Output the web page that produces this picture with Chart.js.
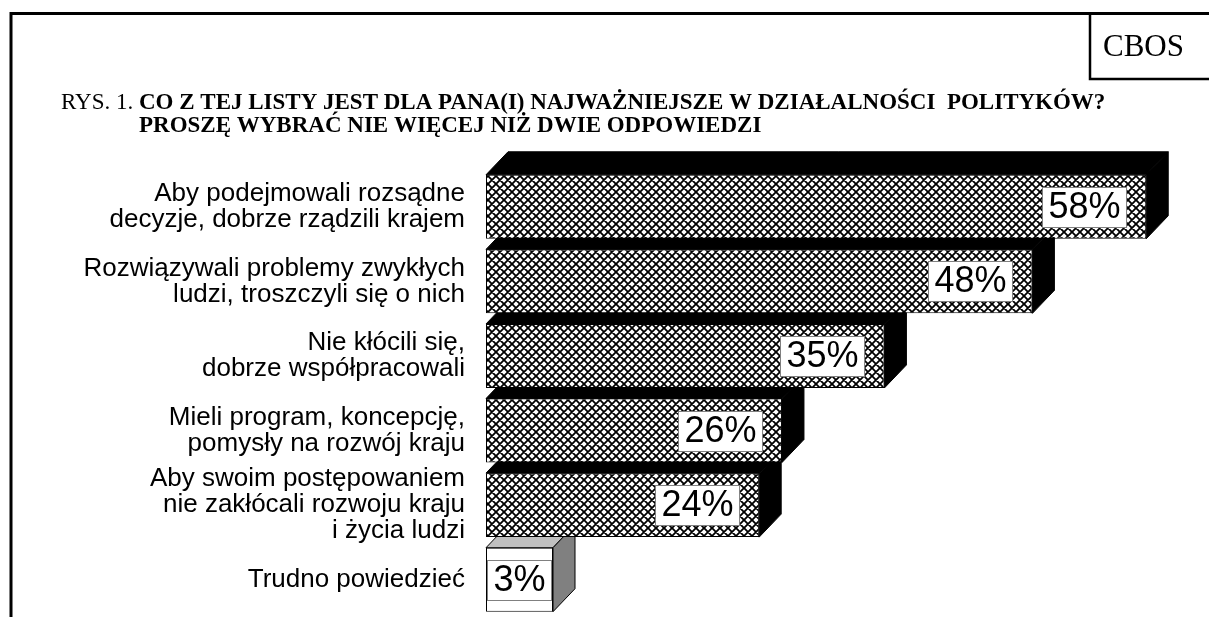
<!DOCTYPE html>
<html>
<head>
<meta charset="utf-8">
<script src="https://cdn.jsdelivr.net/npm/chart.js@4.4.0/dist/chart.umd.min.js"></script>
<style>
  html, body { margin: 0; padding: 0; background: #fff; }
</style>
</head>
<body>
<canvas id="bars" width="1209" height="617"></canvas>
<script>
// data
var categories = [
    ['Aby podejmowali rozsądne', 'decyzje, dobrze rządzili krajem'],
    ['Rozwiązywali problemy zwykłych', 'ludzi, troszczyli się o nich'],
    ['Nie kłócili się,', 'dobrze współpracowali'],
    ['Mieli program, koncepcję,', 'pomysły na rozwój kraju'],
    ['Aby swoim postępowaniem', 'nie zakłócali rozwoju kraju', 'i życia ludzi'],
    ['Trudno powiedzieć']
];
var values = [58, 48, 35, 26, 24, 3];
var valueLabels = ['58%', '48%', '35%', '26%', '24%', '3%'];
var titlePrefix = 'RYS. 1. ';
var titleLines = [
    'CO Z TEJ LISTY JEST DLA PANA(I) NAJWAŻNIEJSZE W DZIAŁALNOŚCI  POLITYKÓW?',
    'PROSZĘ WYBRAĆ NIE WIĘCEJ NIŻ DWIE ODPOWIEDZI'
];
var sourceLabel = 'CBOS';

var sans = '"Liberation Sans", Arial, sans-serif';
var serif = '"Liberation Serif", "Times New Roman", serif';

// crosshatch fill like the old excel pattern
function crossHatch() {
    var c = document.createElement('canvas');
    c.width = 8; c.height = 8;
    var g = c.getContext('2d');
    g.fillStyle = '#fff';
    g.fillRect(0, 0, 8, 8);
    g.strokeStyle = '#000';
    g.lineWidth = 1.8;
    g.beginPath();
    g.moveTo(-2, -2); g.lineTo(10, 10);
    g.moveTo(-2, 6); g.lineTo(2, 10);
    g.moveTo(6, -2); g.lineTo(10, 2);
    g.moveTo(-2, 10); g.lineTo(10, -2);
    g.moveTo(-2, 2); g.lineTo(2, -2);
    g.moveTo(6, 10); g.lineTo(10, 6);
    g.stroke();
    return g.createPattern(c, 'repeat');
}

var ctx = document.getElementById('bars').getContext('2d');
var hatch = crossHatch();
var fronts = values.map(function (v, i) { return i < 5 ? hatch : '#ffffff'; });
var tops = values.map(function (v, i) { return i < 5 ? '#000000' : '#c0c0c0'; });
var sides = values.map(function (v, i) { return i < 5 ? '#000000' : '#808080'; });

var depthX = 22, depthY = 23;

function barBox(bar) {
    var p = bar.getProps(['x', 'y', 'base', 'height'], true);
    return {
        left: Math.min(p.x, p.base),
        right: Math.max(p.x, p.base),
        top: p.y - p.height / 2,
        bottom: p.y + p.height / 2,
        y: p.y
    };
}

var depthPlugin = {
    id: 'depth',
    beforeDatasetsDraw: function (chart) {
        var c = chart.ctx;
        var meta = chart.getDatasetMeta(0);
        c.save();
        c.lineWidth = 1;
        c.strokeStyle = '#000';
        for (var i = meta.data.length - 1; i >= 0; i--) {
            var b = barBox(meta.data[i]);
            c.fillStyle = tops[i];
            c.beginPath();
            c.moveTo(b.left, b.top);
            c.lineTo(b.left + depthX, b.top - depthY);
            c.lineTo(b.right + depthX, b.top - depthY);
            c.lineTo(b.right, b.top);
            c.closePath();
            c.fill(); c.stroke();
            c.fillStyle = sides[i];
            c.beginPath();
            c.moveTo(b.right, b.top);
            c.lineTo(b.right + depthX, b.top - depthY);
            c.lineTo(b.right + depthX, b.bottom - depthY);
            c.lineTo(b.right, b.bottom);
            c.closePath();
            c.fill(); c.stroke();
        }
        c.restore();
    },
    afterDatasetsDraw: function (chart) {
        var c = chart.ctx;
        var meta = chart.getDatasetMeta(0);
        c.save();
        c.font = '36px ' + sans;
        c.textAlign = 'center';
        c.textBaseline = 'middle';
        meta.data.forEach(function (bar, i) {
            var b = barBox(bar);
            var w = c.measureText(valueLabels[i]).width + 12;
            var h = 40;
            var x0 = b.right - 20 - w;
            if (b.right - b.left < w + 30) x0 = (b.left + b.right - w) / 2;
            var y0 = Math.round(b.y - h / 2) + 0.5;
            x0 = Math.round(x0) + 0.5;
            c.fillStyle = '#fff';
            c.fillRect(x0, y0, w, h);
            c.strokeStyle = '#808080';
            c.lineWidth = 1;
            c.strokeRect(x0, y0, w, h);
            c.fillStyle = '#000';
            c.fillText(valueLabels[i], x0 + w / 2, y0 + h / 2 + 1);
        });
        c.restore();
    },
    afterDraw: function (chart) {
        var c = chart.ctx;
        c.save();
        // page frame and source box
        c.strokeStyle = '#000';
        c.lineWidth = 3;
        c.beginPath();
        c.moveTo(11, 617);
        c.lineTo(11, 13.5);
        c.lineTo(1209, 13.5);
        c.stroke();
        c.lineWidth = 2.5;
        c.beginPath();
        c.moveTo(1090, 13);
        c.lineTo(1090, 79);
        c.lineTo(1209, 79);
        c.stroke();
        c.fillStyle = '#000';
        c.textBaseline = 'alphabetic';
        c.font = '31px ' + serif;
        c.fillText(sourceLabel, 1103, 56);
        // title
        c.font = '23px ' + serif;
        c.fillText(titlePrefix, 61, 109);
        var bx = 61 + c.measureText(titlePrefix).width;
        c.font = 'bold 23px ' + serif;
        c.fillText(titleLines[0], bx, 109);
        c.fillText(titleLines[1], bx, 132);
        c.restore();
    }
};

new Chart(ctx, {
    type: 'bar',
    data: {
        labels: categories,
        datasets: [{
            data: values,
            backgroundColor: fronts,
            borderColor: '#000',
            borderWidth: 1,
            borderSkipped: false,
            barPercentage: 0.858,
            categoryPercentage: 1,
            minBarLength: 67
        }]
    },
    options: {
        indexAxis: 'y',
        responsive: false,
        animation: false,
        devicePixelRatio: 1,
        layout: { padding: { top: 169.5, right: 40, bottom: 0, left: 0 } },
        plugins: { legend: { display: false }, tooltip: { enabled: false } },
        scales: {
            x: { display: false, min: 0, max: 60 },
            y: {
                grid: { display: false, drawTicks: false },
                border: { display: false },
                ticks: {
                    color: '#000',
                    padding: 21,
                    autoSkip: false,
                    font: { family: sans, size: 26, lineHeight: 1.0 }
                },
                afterFit: function (s) {
                    s.width = 486;
                    s.paddingTop = 0;
                    s.paddingBottom = 0;
                }
            }
        }
    },
    plugins: [depthPlugin]
});
</script>
</body>
</html>
